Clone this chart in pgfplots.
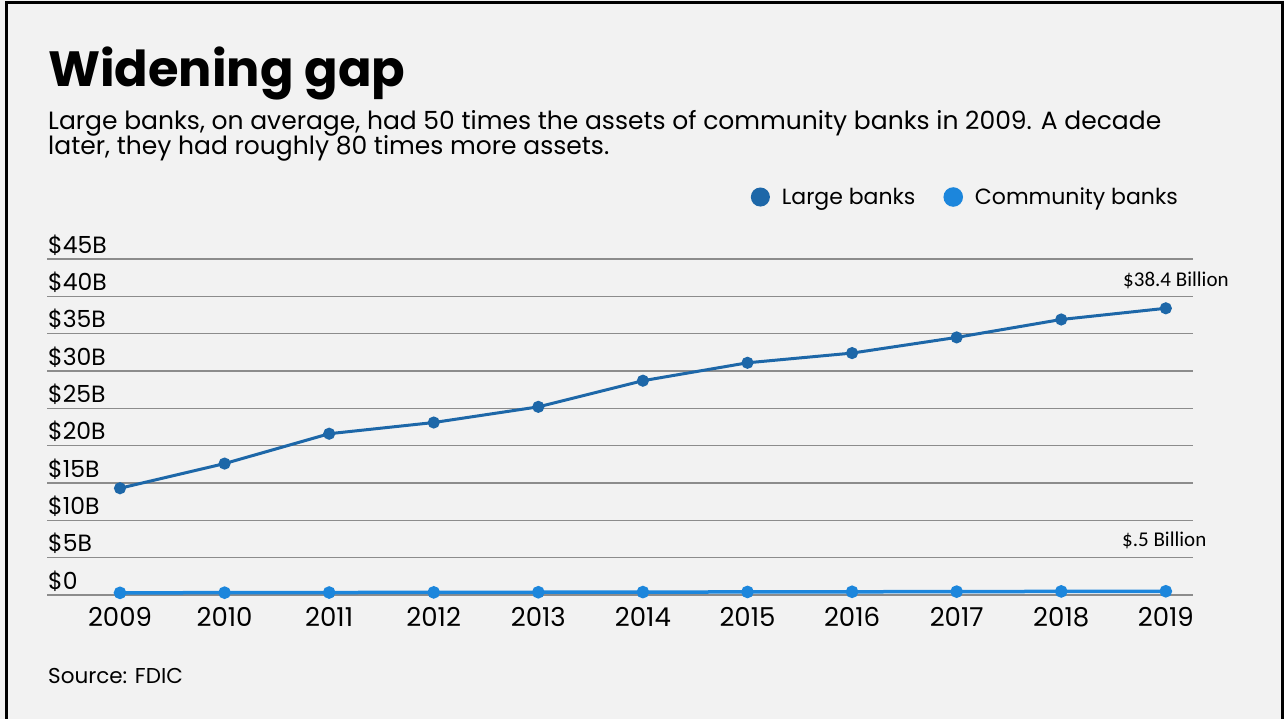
\documentclass[border=0pt]{standalone}
\usepackage{pgfplots}
\pgfplotsset{compat=1.18}
\usepackage{fontspec}
\setmainfont{Poppins}
\newfontfamily\annofont{Carlito}
\definecolor{bgc}{HTML}{F2F2F2}
\definecolor{largec}{HTML}{1D67A8}
\definecolor{commc}{HTML}{1C86DC}
\definecolor{gridc}{HTML}{8C8C8C}
\newcommand{\fs}[1]{\fontsize{#1}{#1}\selectfont}

\begin{document}
\begin{tikzpicture}[x=1pt,y=-1pt]
\useasboundingbox (0,0) rectangle (1284,719);
\fill[bgc] (0,0) rectangle (1284,719);
\draw[black,line width=3pt] (6,719) -- (6,3) -- (1282,3) -- (1282,719);

% headline and deck
\node[anchor=base west,inner sep=0pt,font=\fs{49.5}\bfseries] at (48,87) {Widening gap};
\node[anchor=base west,inner sep=0pt,font=\fs{25}] at (48,130)
  {Large banks, on average, had 50 times the assets of community banks in 2009. A decade};
\node[anchor=base west,inner sep=0pt,font=\fs{25}] at (48,155)
  {later, they had roughly 80 times more assets.};

\begin{axis}[
  at={(47pt,-595pt)}, anchor=south west,
  width=1146pt, height=336pt, scale only axis,
  xmin=-0.698, xmax=10.26, ymin=0, ymax=45,
  clip=false,
  axis line style={draw=none},
  tick style={draw=none},
  ymajorgrids, grid style={gridc,line width=1.5pt},
  ytick={0,5,...,45},
  yticklabels={\$0,\$5B,\$10B,\$15B,\$20B,\$25B,\$30B,\$35B,\$40B,\$45B},
  yticklabel style={anchor=base west,inner sep=0pt,xshift=1pt,yshift=6pt,font=\fs{23.5}},
  xtick={0,...,10},
  xticklabels={2009,2010,2011,2012,2013,2014,2015,2016,2017,2018,2019},
  xticklabel style={anchor=north,inner sep=0pt,yshift=-12pt,font=\fs{26}},
  legend style={at={(0.9887,1.1845)},anchor=east,draw=none,fill=none,
    inner sep=0pt,font=\fs{22},legend columns=2,
    /tikz/every odd column/.append style={column sep=10pt},
    /tikz/every even column/.append style={column sep=26pt}},
  legend image code/.code={\fill[#1] (4pt,0pt) circle (8pt);},
]
\addplot[largec,line width=3pt,mark=*,mark size=4.5pt] coordinates {
  (0,14.3) (1,17.6) (2,21.6) (3,23.1) (4,25.2) (5,28.7)
  (6,31.1) (7,32.4) (8,34.5) (9,36.9) (10,38.4)};
\addlegendentry{Large banks}
\addplot[commc,line width=3.5pt,mark=*,mark size=4.5pt] coordinates {
  (0,0.29) (1,0.31) (2,0.33) (3,0.35) (4,0.37) (5,0.39)
  (6,0.41) (7,0.43) (8,0.45) (9,0.48) (10,0.5)};
\addlegendentry{Community banks}
\end{axis}

% value call-outs
\node[anchor=base west,inner sep=0pt,font=\annofont\fs{21}] at (1123,287) {\$38.4 Billion};
\node[anchor=base west,inner sep=0pt,font=\annofont\fs{21}] at (1122,546) {\$.5 Billion};

\node[anchor=base west,inner sep=0pt,font=\fs{21.5}] at (48,683) {Source: FDIC};
\end{tikzpicture}
\end{document}
